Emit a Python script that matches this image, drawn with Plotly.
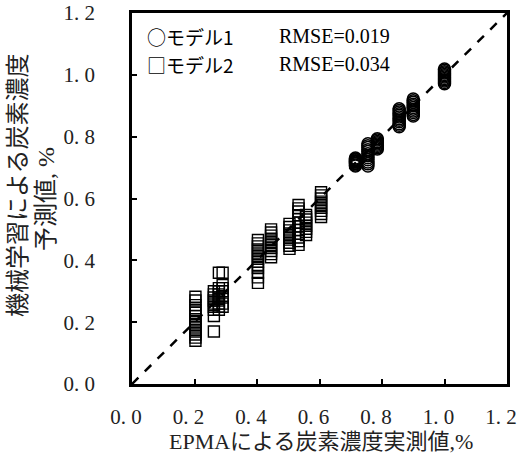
import plotly.graph_objects as go

# Measured carbon concentration (EPMA) vs. machine-learning prediction, %
# Model 1 (circles)
m1_x = [0.715] * 10 + [0.755] * 12 + [0.785] * 9 + [0.855] * 12 + [0.900] * 11 + [1.000] * 12
m1_y = [0.705, 0.708, 0.712, 0.715, 0.718, 0.720, 0.722, 0.725, 0.728, 0.731,
        0.705, 0.712, 0.718, 0.725, 0.732, 0.738, 0.745, 0.752, 0.758, 0.765, 0.771, 0.777,
        0.760, 0.764, 0.768, 0.772, 0.776, 0.780, 0.784, 0.789, 0.793,
        0.832, 0.837, 0.842, 0.848, 0.853, 0.858, 0.864, 0.869, 0.874, 0.880, 0.885, 0.890,
        0.867, 0.872, 0.878, 0.883, 0.889, 0.894, 0.900, 0.905, 0.911, 0.916, 0.922,
        0.971, 0.975, 0.980, 0.984, 0.988, 0.993, 0.997, 1.001, 1.006, 1.010, 1.015, 1.019]

# Model 2 (squares)
m2_x = ([0.203] * 14 + [0.262] * 9 + [0.278] * 9 + [0.290] * 7 + [0.403] * 13 +
        [0.445] * 10 + [0.504] * 9 + [0.533] * 12 + [0.557] * 8 + [0.605] * 9)
m2_y = [0.140, 0.150, 0.160, 0.170, 0.180, 0.190, 0.200, 0.210, 0.220, 0.230, 0.240, 0.255, 0.270, 0.282,
        0.170, 0.220, 0.240, 0.250, 0.260, 0.270, 0.280, 0.290, 0.300,
        0.240, 0.250, 0.260, 0.270, 0.280, 0.290, 0.300, 0.310, 0.360,
        0.250, 0.260, 0.280, 0.300, 0.310, 0.320, 0.360,
        0.327, 0.345, 0.360, 0.375, 0.385, 0.395, 0.405, 0.415, 0.425, 0.435, 0.445, 0.455, 0.466,
        0.410, 0.420, 0.430, 0.440, 0.450, 0.460, 0.470, 0.480, 0.490, 0.500,
        0.437, 0.447, 0.457, 0.467, 0.477, 0.487, 0.497, 0.508, 0.518,
        0.450, 0.462, 0.474, 0.486, 0.498, 0.510, 0.522, 0.534, 0.546, 0.558, 0.568, 0.579,
        0.482, 0.492, 0.502, 0.512, 0.522, 0.532, 0.540, 0.547,
        0.540, 0.550, 0.560, 0.570, 0.580, 0.590, 0.600, 0.610, 0.620]

tick_vals = [0.0, 0.2, 0.4, 0.6, 0.8, 1.0, 1.2]
tick_text = ["0. 0", "0. 2", "0. 4", "0. 6", "0. 8", "1. 0", "1. 2"]

model_names = ["○モデル1", "□モデル2"]
model_rmse = ["RMSE=0.019", "RMSE=0.034"]
x_title = "EPMAによる炭素濃度実測値,%"
y_title_lines = ["機械学習による炭素濃度", "予測値, %"]

FONT = "Liberation Serif, Noto Sans CJK JP, serif"
CJK_FONT = "Noto Sans CJK JP, Liberation Serif, serif"

fig = go.Figure()

# 1:1 reference line
fig.add_trace(go.Scatter(x=[0, 1.2], y=[0, 1.2], mode="lines",
                         line=dict(color="black", width=2.5, dash="dash"),
                         hoverinfo="skip", showlegend=False))

fig.add_trace(go.Scatter(x=m2_x, y=m2_y, mode="markers", name="モデル2",
                         marker=dict(symbol="square-open", size=11, color="black",
                                     line=dict(width=1.4)),
                         showlegend=False))
fig.add_trace(go.Scatter(x=m1_x, y=m1_y, mode="markers", name="モデル1",
                         marker=dict(symbol="circle-open", size=12, color="black",
                                     line=dict(width=1.5)),
                         showlegend=False))

axis_common = dict(range=[0, 1.2], tickvals=tick_vals, ticktext=tick_text,
                   ticks="inside", ticklen=5, tickwidth=1.5, tickcolor="black",
                   showline=True, linewidth=2.5, linecolor="black", mirror=True,
                   showgrid=False, zeroline=False, automargin=False,
                   ticklabeloverflow="allow",
                   tickfont=dict(family=FONT, size=21, color="#222"))

fig.update_xaxes(**axis_common, ticklabelstandoff=12, ticklabelshift=-6)
fig.update_yaxes(**axis_common, ticklabelstandoff=30)

annotations = []
# in-plot key: symbol/model name and RMSE per row
for row, (name, rmse) in enumerate(zip(model_names, model_rmse)):
    yy = 0.938 - row * 0.0755
    annotations.append(dict(x=0.035, y=yy, xref="paper", yref="paper", text=name,
                            showarrow=False, xanchor="left", yanchor="middle",
                            font=dict(family=CJK_FONT, size=19, color="black")))
    annotations.append(dict(x=0.387, y=yy, xref="paper", yref="paper", text=rmse,
                            showarrow=False, xanchor="left", yanchor="middle",
                            font=dict(family=FONT, size=20, color="black")))

annotations.append(dict(x=0.505, y=-0.155, xref="paper", yref="paper", text=x_title,
                        showarrow=False, xanchor="center", yanchor="middle",
                        font=dict(family=FONT, size=22, color="#222")))

y_title_pos = [(-0.304, 0.534), (-0.229, 0.499)]
for (px, py), line in zip(y_title_pos, y_title_lines):
    annotations.append(dict(x=px, y=py, xref="paper", yref="paper",
                            text=line, textangle=-90, showarrow=False,
                            xanchor="center", yanchor="middle",
                            font=dict(family=FONT, size=24, color="#222")))

fig.update_layout(width=521, height=459,
                  margin=dict(l=132, r=14, t=13, b=75),
                  plot_bgcolor="white", paper_bgcolor="white",
                  annotations=annotations)

fig.write_html("out.html")
